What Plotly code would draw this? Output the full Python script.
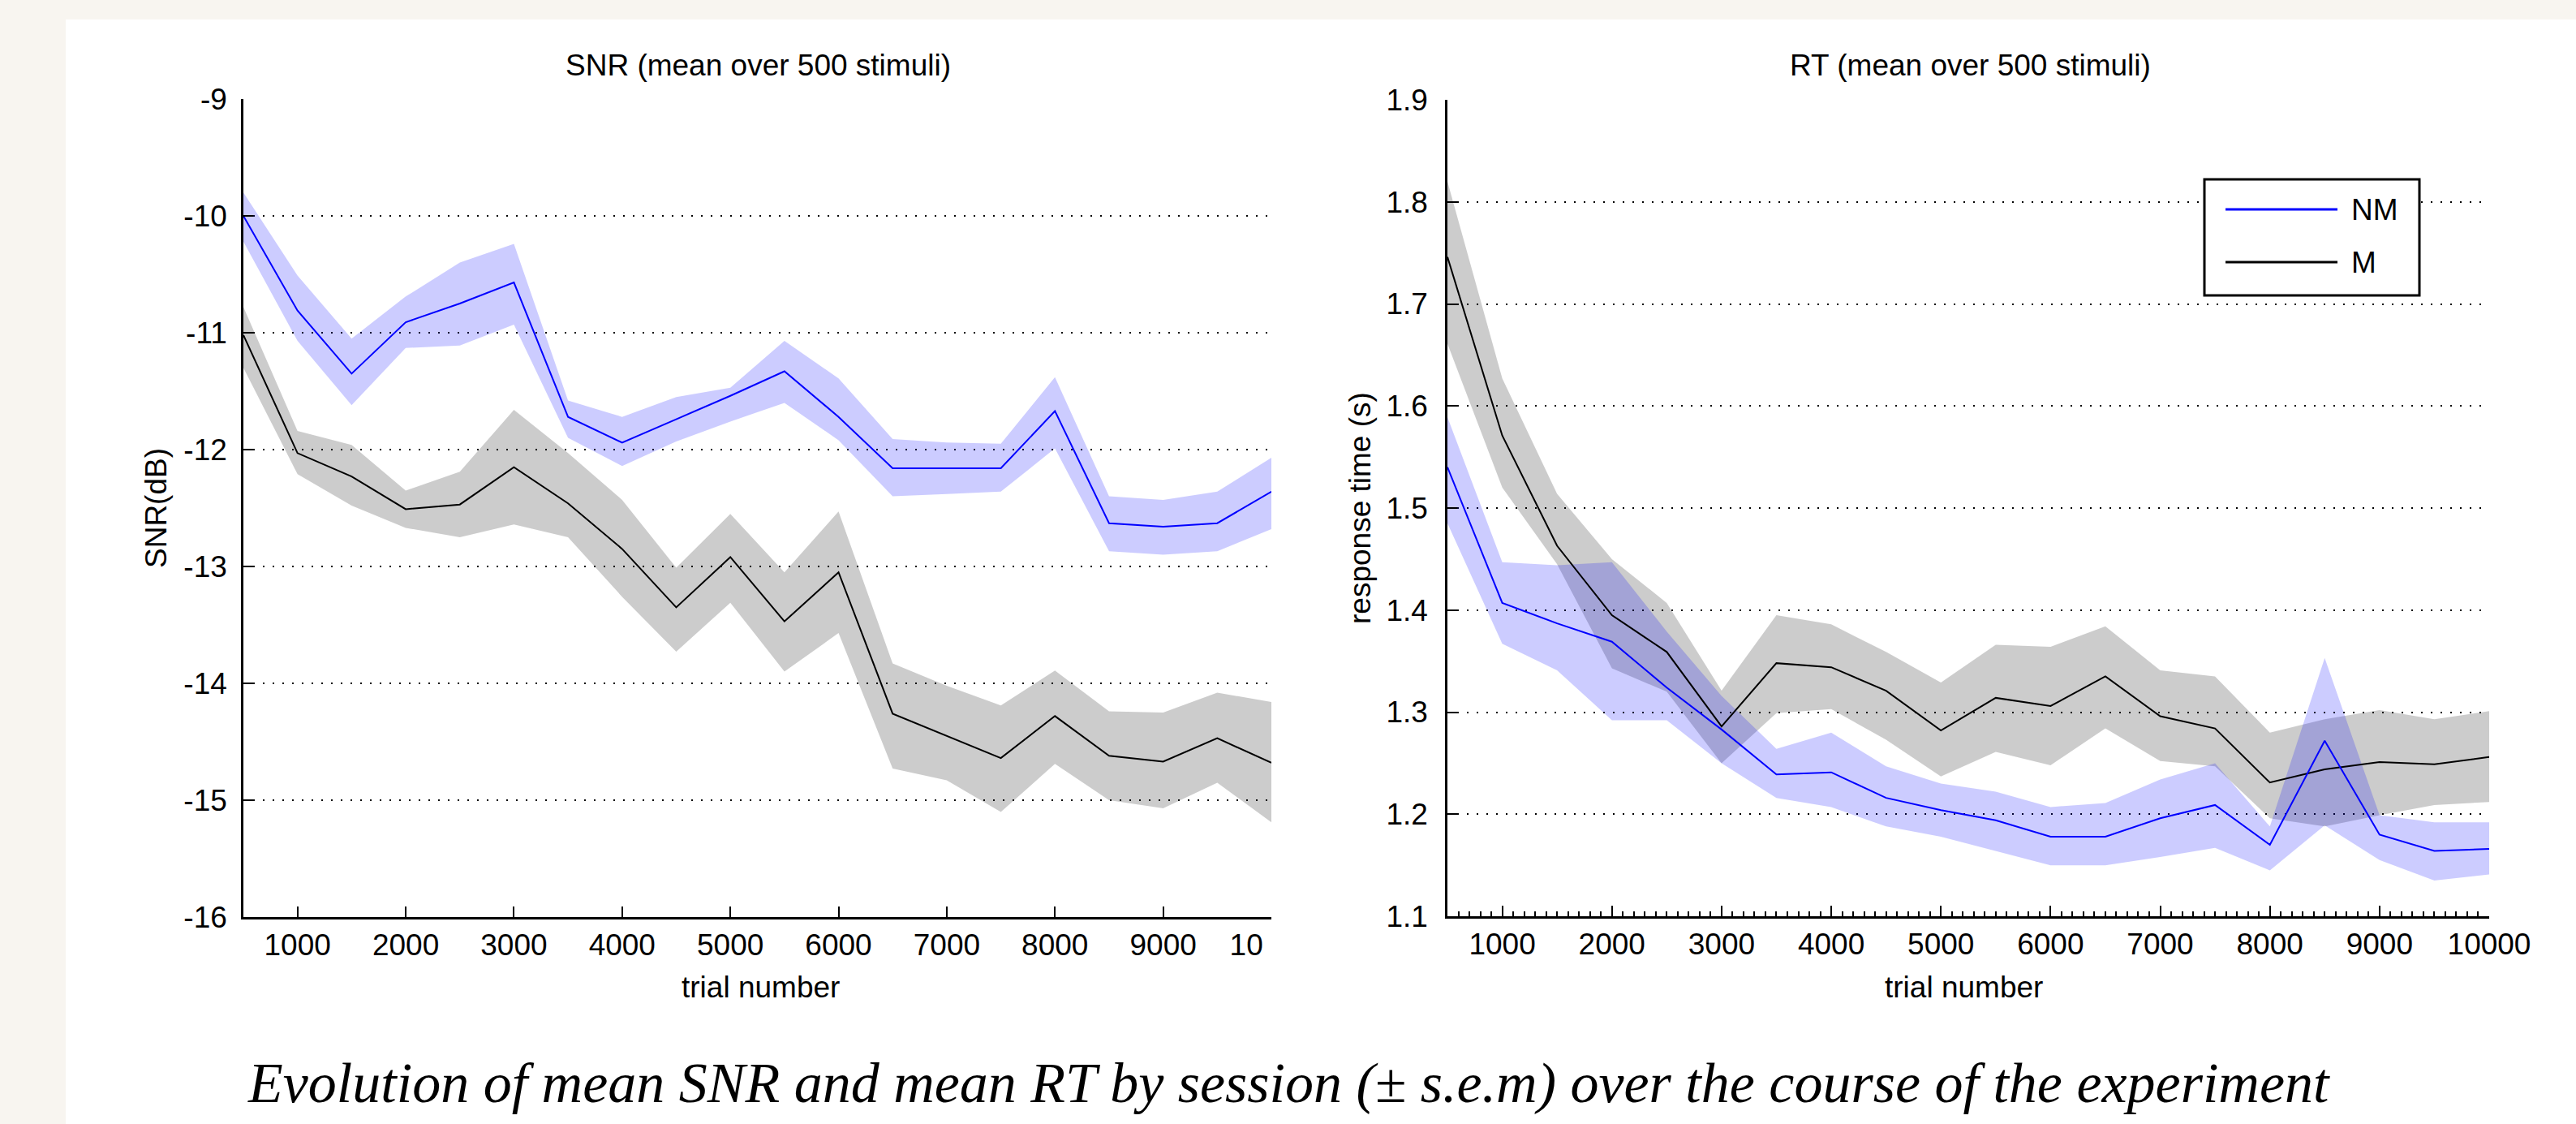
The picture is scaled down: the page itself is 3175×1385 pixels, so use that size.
import plotly.graph_objects as go

W, H = 3175, 1385

# ---------------- data ----------------
trials = [500, 1000, 1500, 2000, 2500, 3000, 3500, 4000, 4500, 5000,
          5500, 6000, 6500, 7000, 7500, 8000, 8500, 9000, 9500, 10000]

# SNR (dB)
snr_nm = [-10.00, -10.81, -11.35, -10.91, -10.75, -10.57, -11.72, -11.94, -11.74, -11.54,
          -11.33, -11.72, -12.16, -12.16, -12.16, -11.67, -12.63, -12.66, -12.63, -12.36]
snr_nm_hi = [-9.80, -10.51, -11.05, -10.69, -10.40, -10.24, -11.58, -11.72, -11.55, -11.47,
             -11.07, -11.39, -11.91, -11.94, -11.95, -11.38, -12.40, -12.43, -12.36, -12.07]
snr_nm_lo = [-10.22, -11.07, -11.62, -11.13, -11.11, -10.93, -11.90, -12.14, -11.93, -11.76,
             -11.60, -11.92, -12.40, -12.38, -12.36, -11.99, -12.87, -12.90, -12.87, -12.68]

snr_m = [-11.02, -12.03, -12.23, -12.51, -12.47, -12.15, -12.46, -12.85, -13.35, -12.92,
         -13.47, -13.05, -14.26, -14.45, -14.64, -14.28, -14.62, -14.67, -14.47, -14.68]
snr_m_hi = [-10.78, -11.84, -11.96, -12.35, -12.19, -11.66, -12.03, -12.43, -13.01, -12.55,
            -13.05, -12.53, -13.83, -14.02, -14.19, -13.89, -14.24, -14.25, -14.08, -14.16]
snr_m_lo = [-11.30, -12.21, -12.48, -12.67, -12.75, -12.64, -12.75, -13.26, -13.73, -13.31,
            -13.90, -13.57, -14.73, -14.83, -15.10, -14.69, -15.00, -15.07, -14.85, -15.19]

# RT (s)
rt_nm = [1.540, 1.407, 1.387, 1.369, 1.324, 1.283, 1.239, 1.241, 1.216, 1.204,
         1.194, 1.178, 1.178, 1.196, 1.209, 1.170, 1.272, 1.180, 1.164, 1.166]
rt_nm_hi = [1.589, 1.447, 1.444, 1.447, 1.379, 1.316, 1.264, 1.280, 1.247, 1.230,
            1.222, 1.207, 1.211, 1.234, 1.250, 1.188, 1.353, 1.199, 1.192, 1.192]
rt_nm_lo = [1.485, 1.367, 1.341, 1.292, 1.292, 1.250, 1.216, 1.207, 1.188, 1.178,
            1.164, 1.150, 1.150, 1.158, 1.167, 1.145, 1.189, 1.155, 1.135, 1.141]

rt_m = [1.746, 1.571, 1.463, 1.395, 1.359, 1.286, 1.348, 1.344, 1.321, 1.282,
        1.314, 1.306, 1.335, 1.296, 1.284, 1.231, 1.244, 1.251, 1.249, 1.256]
rt_m_hi = [1.820, 1.627, 1.514, 1.450, 1.407, 1.321, 1.395, 1.386, 1.359, 1.329,
           1.366, 1.364, 1.384, 1.341, 1.335, 1.280, 1.293, 1.302, 1.293, 1.301]
rt_m_lo = [1.661, 1.520, 1.445, 1.343, 1.320, 1.250, 1.299, 1.303, 1.273, 1.237,
           1.261, 1.248, 1.284, 1.252, 1.247, 1.196, 1.188, 1.199, 1.209, 1.212]

snr_ticks = [-16, -15, -14, -13, -12, -11, -10, -9]
snr_ticktext = ["-16", "-15", "-14", "-13", "-12", "-11", "-10", "-9"]
rt_ticks = [1.1, 1.2, 1.3, 1.4, 1.5, 1.6, 1.7, 1.8, 1.9]
rt_ticktext = ["1.1", "1.2", "1.3", "1.4", "1.5", "1.6", "1.7", "1.8", "1.9"]
x_ticks = [1000, 2000, 3000, 4000, 5000, 6000, 7000, 8000, 9000, 10000]
x_ticktext = ["1000", "2000", "3000", "4000", "5000", "6000", "7000", "8000", "9000", "10000"]

series_names = ["NM", "M"]
title_left = "SNR (mean over 500 stimuli)"
title_right = "RT (mean over 500 stimuli)"
ylabel_left = "SNR(dB)"
ylabel_right = "response time (s)"
xlabel = "trial number"
caption = "Evolution of mean SNR and mean RT by session (± s.e.m) over the course of the experiment"

# ---------------- style ----------------
BLUE = "#0000ff"
BLACK = "#000000"
BLUE_FILL = "rgba(0,0,255,0.2)"
GRAY_FILL = "rgba(0,0,0,0.2)"
FONT = "Liberation Sans, Arial, sans-serif"
FS = 37


def px(x):
    return x / W


def py(y):
    return 1 - y / H


fig = go.Figure()


def band(xs, hi, lo, color, xa, ya):
    fig.add_trace(go.Scatter(x=list(xs) + list(xs)[::-1], y=list(hi) + list(lo)[::-1],
                             fill="toself", fillcolor=color, line=dict(width=0),
                             mode="lines", hoverinfo="skip", showlegend=False,
                             xaxis=xa, yaxis=ya))


def line(xs, ys, color, name, xa, ya):
    fig.add_trace(go.Scatter(x=xs, y=ys, mode="lines", line=dict(color=color, width=2),
                             name=name, showlegend=False, xaxis=xa, yaxis=ya))


# left: SNR
band(trials, snr_m_hi, snr_m_lo, GRAY_FILL, "x", "y")
band(trials, snr_nm_hi, snr_nm_lo, BLUE_FILL, "x", "y")
line(trials, snr_m, BLACK, series_names[1], "x", "y")
line(trials, snr_nm, BLUE, series_names[0], "x", "y")

# right: RT
band(trials, rt_m_hi, rt_m_lo, GRAY_FILL, "x2", "y2")
band(trials, rt_nm_hi, rt_nm_lo, BLUE_FILL, "x2", "y2")
line(trials, rt_m, BLACK, series_names[1], "x2", "y2")
line(trials, rt_nm, BLUE, series_names[0], "x2", "y2")

axis_common = dict(showline=True, linecolor="black", linewidth=2.5,
                   ticks="inside", tickcolor="black", tickwidth=2,
                   tickfont=dict(family=FONT, size=FS, color="black"),
                   zeroline=False, automargin=False)

xax = dict(axis_common, range=[500, 10000], tickmode="array", tickvals=x_ticks,
           ticktext=x_ticktext, ticklen=13, showgrid=False)
yax_grid = dict(showgrid=True, gridcolor="black", gridwidth=2, griddash="2px,10px")

fig.update_layout(
    width=W, height=H, margin=dict(l=0, r=0, t=0, b=0, pad=0, autoexpand=False),
    paper_bgcolor="#f8f5f0", plot_bgcolor="rgba(0,0,0,0)",
    showlegend=False,
    xaxis=dict(xax, domain=[px(300), px(1567)], anchor="y"),
    yaxis=dict(axis_common, **yax_grid, domain=[py(1130), py(122)], anchor="x",
               range=[-16, -9], tickmode="array", tickvals=snr_ticks,
               ticktext=snr_ticktext, ticklen=12, ticklabelstandoff=10),
    xaxis2=dict(xax, domain=[px(1784), px(3068)], anchor="y2",
                minor=dict(ticks="inside", ticklen=6, tickcolor="black", tickwidth=1.5,
                           tickmode="linear", tick0=0, dtick=100, showgrid=False)),
    yaxis2=dict(axis_common, **yax_grid, domain=[py(1129), py(123)], anchor="x2",
                range=[1.1, 1.9], tickmode="array", tickvals=rt_ticks,
                ticktext=rt_ticktext, ticklen=12, ticklabelstandoff=14),
)

shapes = []
# white page area
shapes.append(dict(type="rect", xref="paper", yref="paper", x0=px(81), x1=1, y0=0, y1=py(24),
                   fillcolor="white", line=dict(width=0), layer="below"))
# crop of the left panel's last tick label (the original panel is cut there)
shapes.append(dict(type="rect", xref="paper", yref="paper", x0=px(1557), x1=px(1700),
                   y0=py(1200), y1=py(1138), fillcolor="white", line=dict(width=0), layer="above"))
# legend box
shapes.append(dict(type="rect", xref="paper", yref="paper", x0=px(2717), x1=px(2982),
                   y0=py(364), y1=py(221), fillcolor="white", line=dict(color="black", width=3),
                   layer="above"))
shapes.append(dict(type="line", xref="paper", yref="paper", x0=px(2743), x1=px(2881),
                   y0=py(258), y1=py(258), line=dict(color=BLUE, width=3), layer="above"))
shapes.append(dict(type="line", xref="paper", yref="paper", x0=px(2743), x1=px(2881),
                   y0=py(323), y1=py(323), line=dict(color=BLACK, width=3), layer="above"))
fig.update_layout(shapes=shapes)

ann = []
f = dict(family=FONT, size=FS, color="black")
ann.append(dict(text=title_left, x=px(934), y=py(80), xref="paper", yref="paper",
                showarrow=False, xanchor="center", yanchor="middle", font=f))
ann.append(dict(text=title_right, x=px(2428), y=py(80), xref="paper", yref="paper",
                showarrow=False, xanchor="center", yanchor="middle", font=f))
ann.append(dict(text=ylabel_left, x=px(192), y=py(626), xref="paper", yref="paper",
                showarrow=False, textangle=-90, xanchor="center", yanchor="middle", font=f))
ann.append(dict(text=ylabel_right, x=px(1676), y=py(626), xref="paper", yref="paper",
                showarrow=False, textangle=-90, xanchor="center", yanchor="middle", font=f))
ann.append(dict(text=xlabel, x=px(937), y=py(1216), xref="paper", yref="paper",
                showarrow=False, xanchor="center", yanchor="middle", font=f))
ann.append(dict(text=xlabel, x=px(2420), y=py(1216), xref="paper", yref="paper",
                showarrow=False, xanchor="center", yanchor="middle", font=f))
ann.append(dict(text=series_names[0], x=px(2896), y=py(258), xref="paper", yref="paper",
                showarrow=False, xanchor="left", yanchor="middle", font=f))
ann.append(dict(text=series_names[1], x=px(2896), y=py(323), xref="paper", yref="paper",
                showarrow=False, xanchor="left", yanchor="middle", font=f))
ann.append(dict(text=caption, x=px(1588), y=py(1334), xref="paper", yref="paper",
                showarrow=False, xanchor="center", yanchor="middle",
                font=dict(family="Liberation Serif, serif", size=70, color="black", style="italic")))
fig.update_layout(annotations=ann)

fig.write_html("out.html")
